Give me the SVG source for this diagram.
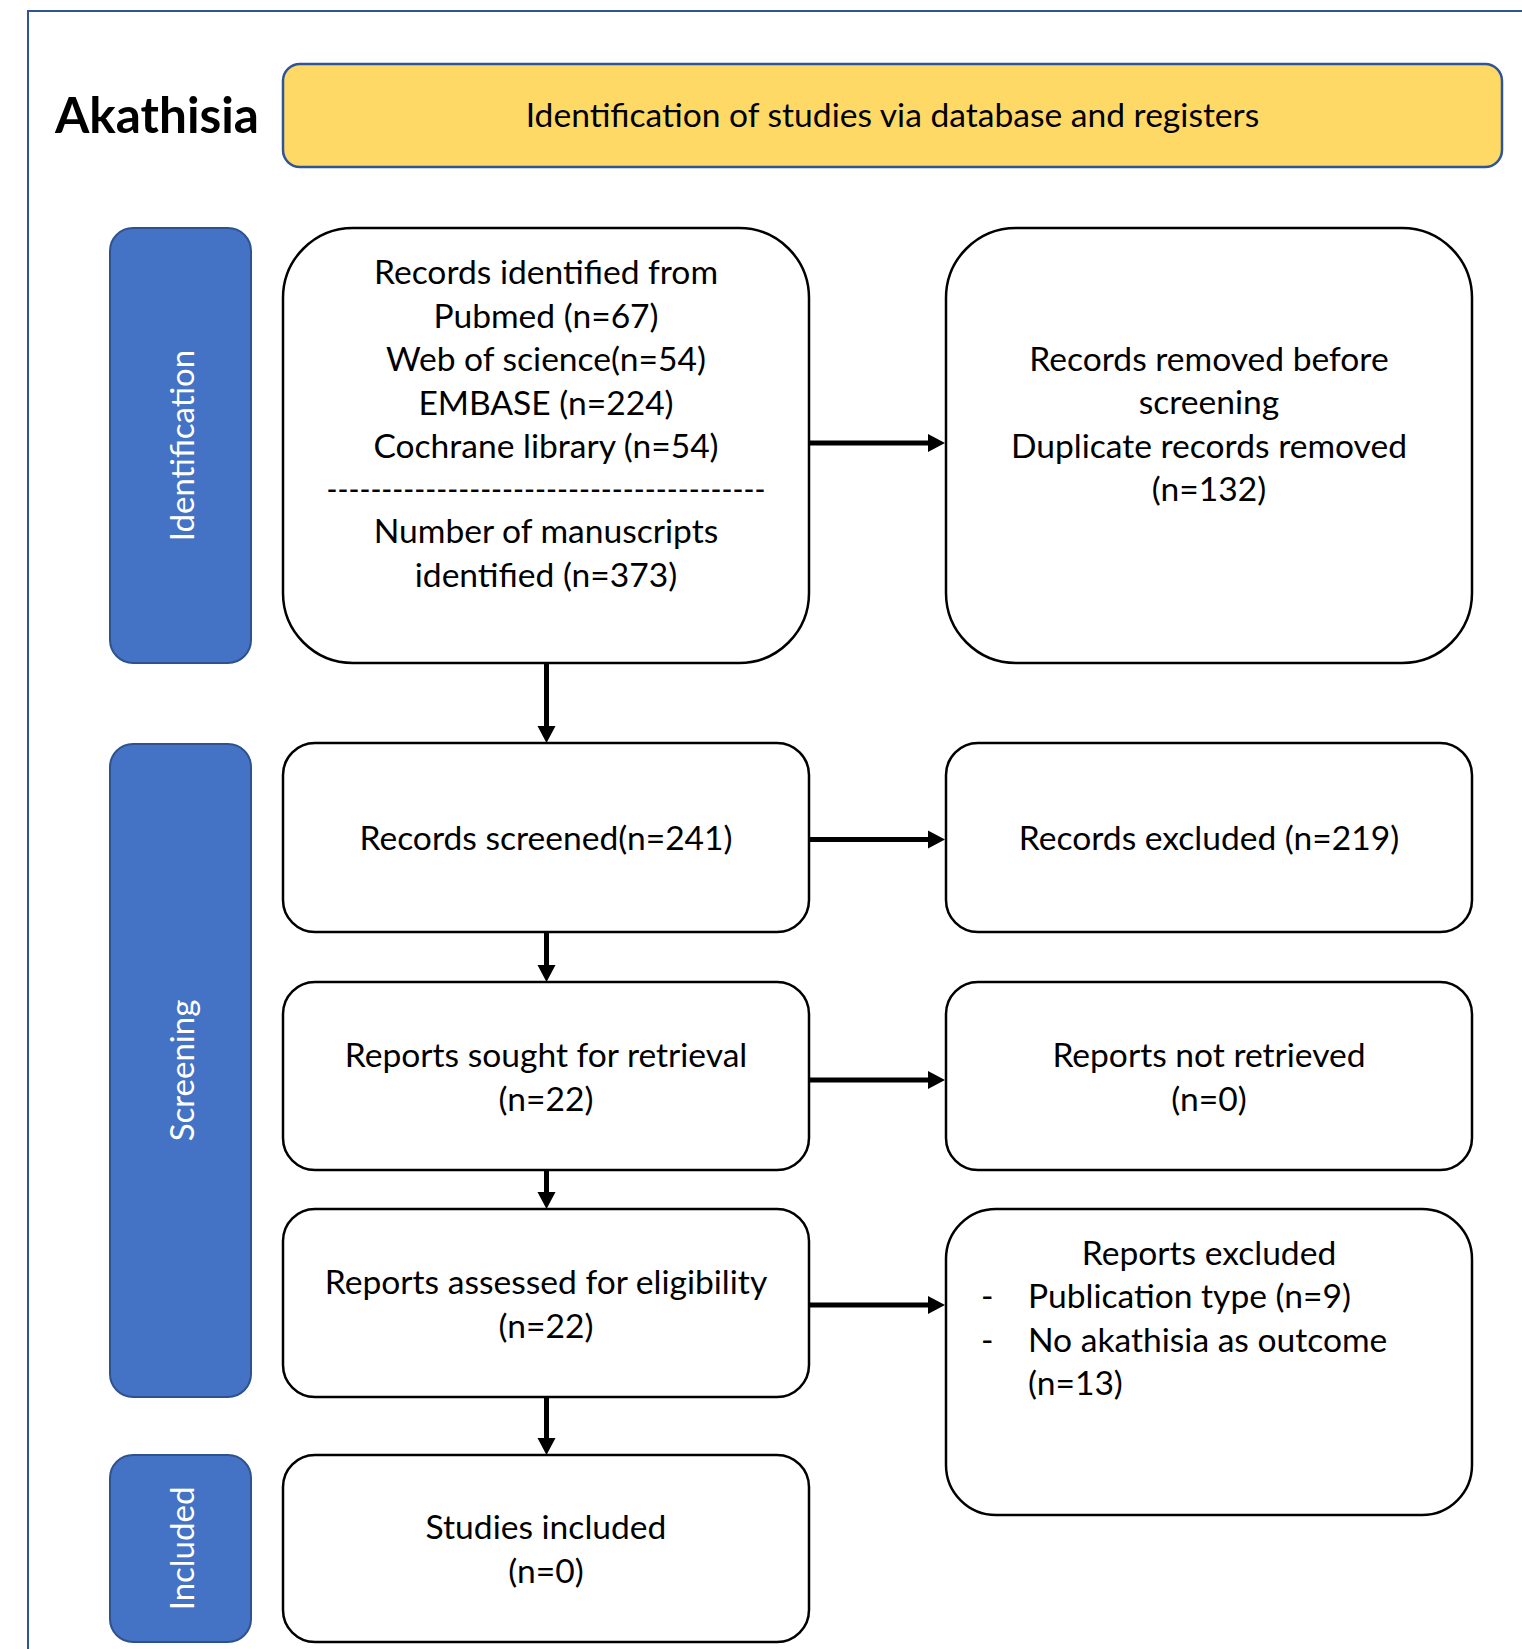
<svg xmlns="http://www.w3.org/2000/svg" width="1522" height="1649" viewBox="0 0 1522 1649">
<defs>
<style>
.t{font-family:Lato,"Open Sans",sans-serif;font-size:33.6px;fill:#000;text-anchor:middle}
.l{text-anchor:start}
.side{fill:#4472C4;stroke:#2F528F;stroke-width:2}
.sl{font-family:Lato,"Open Sans",sans-serif;font-size:33px;fill:#fff;text-anchor:middle}
.box{fill:#fff;stroke:#000;stroke-width:2.5}
.c line{stroke:#000;stroke-width:5;marker-end:url(#ah)}
</style>
<marker id="ah" markerUnits="userSpaceOnUse" markerWidth="18" markerHeight="20" refX="0" refY="9.5" orient="auto"><path d="M0,0.5 L17,9.5 L0,18.5 z" fill="#000"/></marker>
</defs>
<rect width="1522" height="1649" fill="#fff"/>
<rect x="28" y="11" width="1600" height="1700" fill="none" stroke="#2F5597" stroke-width="2"/>
<g id="title"><text x="55" y="133" style="font-family:Lato,'Open Sans',sans-serif;font-weight:bold;font-size:49.5px;fill:#000">Akathisia</text></g>
<g id="header"><rect x="283" y="64" width="1219" height="103" rx="17" fill="#FFD966" stroke="#2F5597" stroke-width="2.5"/><text class="t" x="892.5" y="127">Identification of studies via database and registers</text></g>
<g id="side-identification"><rect class="side" x="110" y="228" width="141" height="435" rx="23"/><text class="sl" transform="translate(193.5,445.5) rotate(-90)">Identification</text></g>
<g id="side-screening"><rect class="side" x="110" y="744" width="141" height="653" rx="23"/><text class="sl" transform="translate(193.5,1070.5) rotate(-90)">Screening</text></g>
<g id="side-included"><rect class="side" x="110" y="1455" width="141" height="187" rx="23"/><text class="sl" transform="translate(193.5,1548.5) rotate(-90)">Included</text></g>
<g id="records-identified"><rect class="box" x="283" y="228" width="526" height="435" rx="70"/>
<text class="t" x="546" y="284">Records identified from</text>
<text class="t" x="546" y="327.5">Pubmed (n=67)</text>
<text class="t" x="546" y="371">Web of science(n=54)</text>
<text class="t" x="546" y="414.5">EMBASE (n=224)</text>
<text class="t" x="546" y="458">Cochrane library (n=54)</text>
<text class="t" x="546" y="501" textLength="439" lengthAdjust="spacingAndGlyphs">----------------------------------------</text>
<text class="t" x="546" y="543">Number of manuscripts</text>
<text class="t" x="546" y="586.5">identified (n=373)</text></g>
<g id="records-removed"><rect class="box" x="946" y="228" width="526" height="435" rx="70"/>
<text class="t" x="1209" y="371">Records removed before</text>
<text class="t" x="1209" y="414">screening</text>
<text class="t" x="1209" y="457.5">Duplicate records removed</text>
<text class="t" x="1209" y="500.5">(n=132)</text></g>
<g id="records-screened"><rect class="box" x="283" y="743" width="526" height="189" rx="32"/><text class="t" x="546" y="849.5">Records screened(n=241)</text></g>
<g id="records-excluded"><rect class="box" x="946" y="743" width="526" height="189" rx="32"/><text class="t" x="1209" y="849.5">Records excluded (n=219)</text></g>
<g id="reports-sought"><rect class="box" x="283" y="982" width="526" height="188" rx="32"/><text class="t" x="546" y="1067">Reports sought for retrieval</text><text class="t" x="546" y="1111">(n=22)</text></g>
<g id="reports-not-retrieved"><rect class="box" x="946" y="982" width="526" height="188" rx="32"/><text class="t" x="1209" y="1067">Reports not retrieved</text><text class="t" x="1209" y="1111">(n=0)</text></g>
<g id="reports-assessed"><rect class="box" x="283" y="1209" width="526" height="188" rx="32"/><text class="t" x="546" y="1294">Reports assessed for eligibility</text><text class="t" x="546" y="1337.5">(n=22)</text></g>
<g id="reports-excluded"><rect class="box" x="946" y="1209" width="526" height="306" rx="50"/>
<text class="t" x="1209" y="1264.5">Reports excluded</text>
<text class="t l" x="981" y="1308">-</text><text class="t l" x="1028" y="1308">Publication type (n=9)</text>
<text class="t l" x="981" y="1351.5">-</text><text class="t l" x="1028" y="1351.5">No akathisia as outcome</text>
<text class="t l" x="1028" y="1395">(n=13)</text></g>
<g id="studies-included"><rect class="box" x="283" y="1455" width="526" height="187" rx="32"/><text class="t" x="546" y="1539">Studies included</text><text class="t" x="546" y="1582.5">(n=0)</text></g>
<g id="connectors" class="c">
<line x1="809" y1="443" x2="928" y2="443"/>
<line x1="546.5" y1="663" x2="546.5" y2="726"/>
<line x1="809" y1="839.5" x2="928" y2="839.5"/>
<line x1="546.5" y1="932" x2="546.5" y2="965"/>
<line x1="809" y1="1080" x2="928" y2="1080"/>
<line x1="546.5" y1="1170" x2="546.5" y2="1192"/>
<line x1="809" y1="1305" x2="928" y2="1305"/>
<line x1="546.5" y1="1397" x2="546.5" y2="1438"/>
</g>
</svg>
